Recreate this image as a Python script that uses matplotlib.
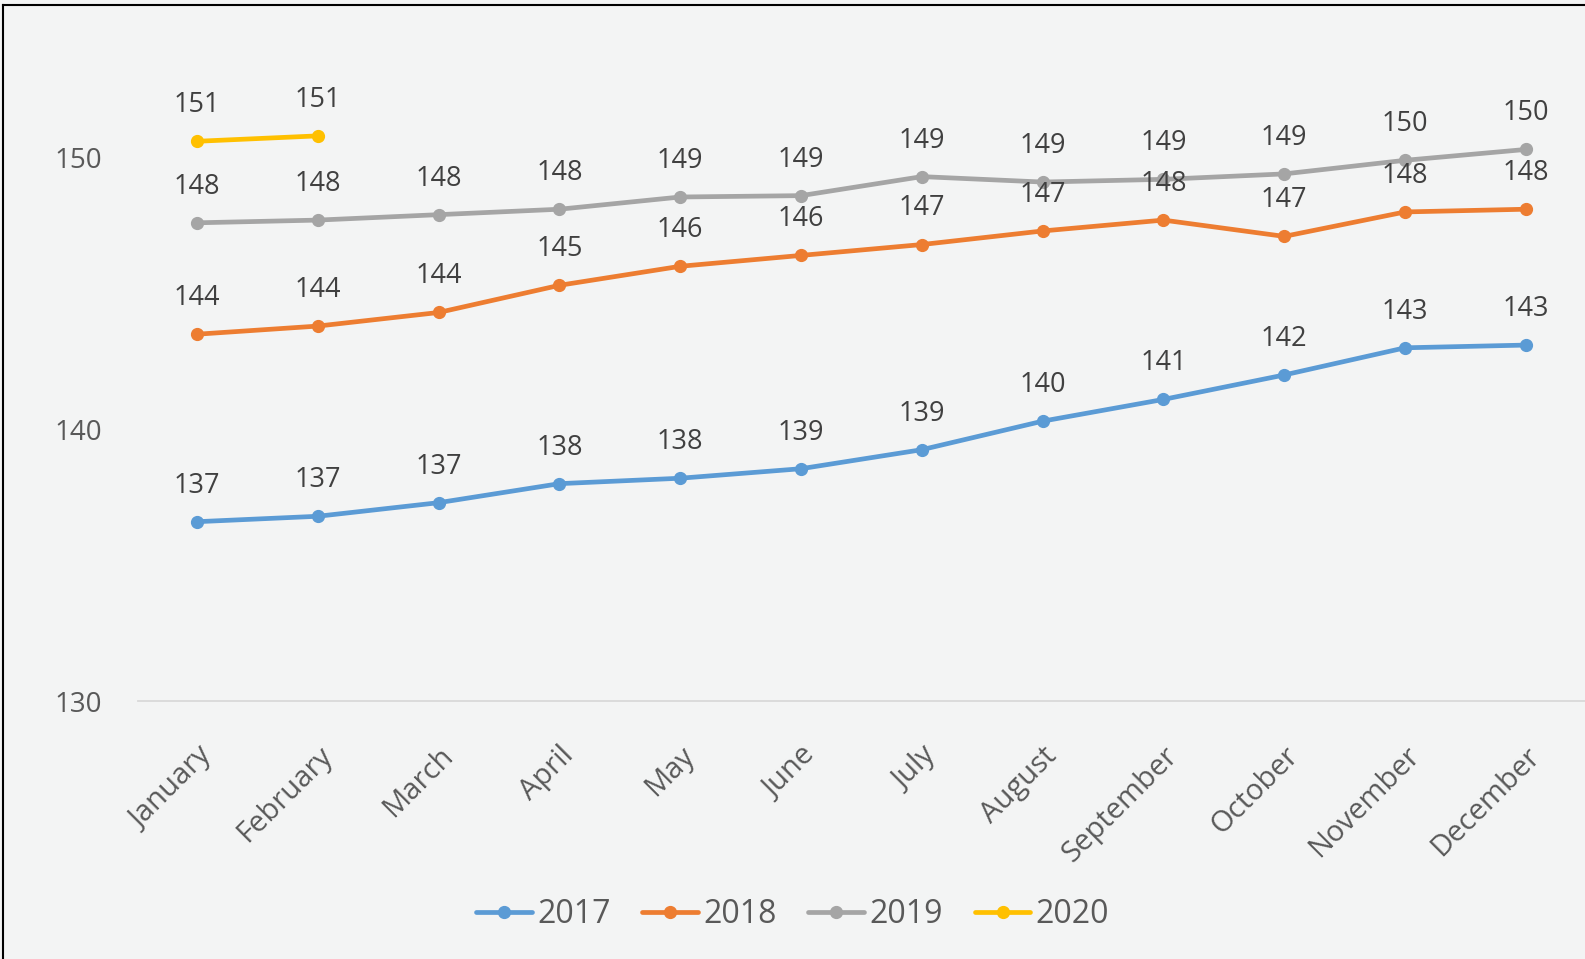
import matplotlib.pyplot as plt
from matplotlib.lines import Line2D

# ----------------------------
# Data
# ----------------------------
months = ["January", "February", "March", "April", "May", "June",
          "July", "August", "September", "October", "November", "December"]

y2017 = [136.6, 136.8, 137.3, 138.0, 138.2, 138.55, 139.25, 140.3, 141.1, 142.0, 143.0, 143.1]
y2018 = [143.5, 143.8, 144.3, 145.3, 146.0, 146.4, 146.8, 147.3, 147.7, 147.1, 148.0, 148.1]
y2019 = [147.6, 147.7, 147.9, 148.1, 148.55, 148.6, 149.3, 149.1, 149.2, 149.4, 149.9, 150.3]
y2020 = [150.6, 150.8]

series_names = ["2017", "2018", "2019", "2020"]
colors = ["#5B9BD5", "#ED7D31", "#A5A5A5", "#FFC000"]
text_col = "#595959"
font = "Open Sans"

fig = plt.figure(figsize=(15.85, 9.59), dpi=100)
fig.patch.set_facecolor("#F3F4F4")
ax = fig.add_axes([0.087, 0.269, 0.913, 0.731])
ax.set_facecolor("none")

x = list(range(len(months)))
all_series = [y2017, y2018, y2019, y2020]
for vals, name, c in zip(all_series, series_names, colors):
    xs = x[:len(vals)]
    ax.plot(xs, vals, color=c, lw=3.4, marker="o", markersize=8.5,
            solid_capstyle="round", label=name, zorder=3)
    for xi, v in zip(xs, vals):
        ax.annotate(f"{int(v + 0.5)}", (xi, v), xytext=(0, 26), textcoords="offset points",
                    ha="center", va="center", fontsize=19.5, color="#404040",
                    family=font, zorder=4)

ax.set_xlim(-0.49, 11.49)
ax.set_ylim(130, 155.8)
ax.set_yticks([130, 140, 150])
ax.set_xticks(x)
ax.set_xticklabels(months, rotation=45, ha="right", rotation_mode="anchor",
                   fontsize=21, color=text_col, family=font)
ax.tick_params(axis="x", length=0, pad=29)
ax.tick_params(axis="y", length=0, pad=26, labelsize=20, labelcolor=text_col)
for lab in ax.get_yticklabels():
    lab.set_family(font)

for s in ["top", "right", "left"]:
    ax.spines[s].set_visible(False)
ax.spines["bottom"].set_color("#D9D9D9")
ax.spines["bottom"].set_linewidth(1.3)

leg = fig.legend(loc="center", bbox_to_anchor=(0.5, 0.046), ncol=4, frameon=False,
                 prop={"family": font, "size": 23}, labelcolor=text_col,
                 handlelength=1.75, handletextpad=0.15, columnspacing=1.0)

# chart border (left and top edges visible in the reference)
fig.add_artist(Line2D([0.002, 0.002], [0, 0.995], transform=fig.transFigure, color="black", lw=1.5))
fig.add_artist(Line2D([0.002, 1.0], [0.995, 0.995], transform=fig.transFigure, color="black", lw=1.5))

fig.savefig("out.png", dpi=100, facecolor=fig.get_facecolor())
